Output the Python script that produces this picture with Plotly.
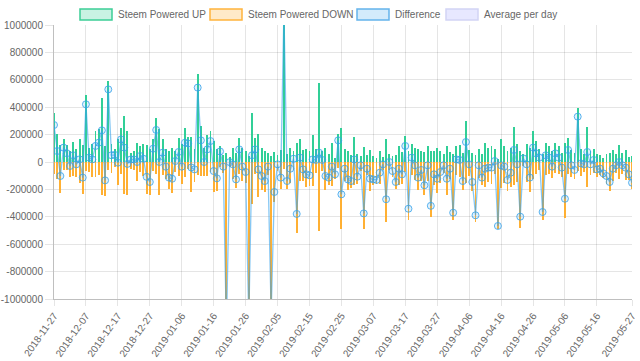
import pandas as pd
import plotly.graph_objects as go

start_date = "2018-11-27"
n_days = 182
dates = pd.date_range(start_date, periods=n_days, freq="D")

x_tick_labels = [
    "2018-11-27", "2018-12-07", "2018-12-17", "2018-12-27", "2019-01-06",
    "2019-01-16", "2019-01-26", "2019-02-05", "2019-02-15", "2019-02-25",
    "2019-03-07", "2019-03-17", "2019-03-27", "2019-04-06", "2019-04-16",
    "2019-04-26", "2019-05-06", "2019-05-16", "2019-05-27",
]

powered_up = [
    360, 207, 122, 165, 124, 80, 148, 92, 170, 122,
    489, 105, 129, 226, 238, 470, 117, 591, 129, 92,
    165, 250, 336, 226, 68, 80, 141, 117, 129, 122,
    92, 165, 324, 238, 165, 92, 80, 105, 80, 178,
    129, 250, 185, 180, 92, 640, 263, 105, 195, 226,
    153, 92, 117, 49, 63, 39, 105, 63, 178, 105,
    80, 44, 355, 178, 202, 105, 80, 63, 44, 73,
    49, 85, 1150, 56, 105, 80, 136, 170, 85, 92,
    80, 195, 92, 575, 80, 105, 56, 141, 32, 202,
    250, 92, 80, 49, 185, 56, 44, 112, 49, 88,
    44, 32, 80, 39, 165, 56, 44, 49, 117, 73,
    190, 80, 129, 105, 92, 80, 73, 117, 80, 80,
    105, 80, 56, 117, 73, 56, 117, 122, 63, 300,
    88, 68, 49, 92, 56, 136, 105, 117, 97, 19,
    165, 117, 80, 105, 258, 129, 80, 56, 129, 105,
    226, 153, 92, 56, 141, 117, 80, 141, 117, 68,
    141, 178, 88, 68, 397, 92, 56, 258, 80, 97,
    56, 49, 32, 56, 68, 88, 56, 122, 63, 88,
    39, 44,
]
powered_down = [
    -90, -127, -224, -60, -60, -109, -99, -109, -151, -236,
    -68, -73, -110, -109, -97, -239, -251, -61, -80, -40,
    -170, -85, -231, -240, -50, -61, -141, -73, -105, -230,
    -238, -68, -90, -238, -97, -126, -194, -227, -73, -105,
    -163, -109, -50, -220, -146, -97, -105, -105, -103, -73,
    -219, -211, -40, -83, -1300, -40, -122, -190, -86, -139,
    -153, -1200, -306, -86, -256, -207, -219, -97, -1150, -292,
    -66, -199, -50, -195, -154, -56, -515, -138, -139, -182,
    -177, -176, -77, -507, -65, -207, -170, -175, -122, -44,
    -486, -141, -207, -188, -166, -163, -68, -487, -98, -210,
    -171, -163, -158, -56, -437, -56, -110, -195, -166, -163,
    -73, -421, -97, -129, -206, -138, -243, -141, -400, -170,
    -227, -153, -80, -239, -122, -426, -98, -107, -202, -154,
    -105, -214, -438, -116, -170, -185, -146, -158, -90, -486,
    -189, -151, -211, -183, -170, -146, -479, -30, -146, -219,
    -121, -90, -60, -421, -92, -85, -114, -78, -85, -109,
    -409, -90, -112, -126, -66, -102, -73, -185, -97, -82,
    -110, -98, -115, -158, -214, -137, -80, -122, -87, -129,
    -129, -195,
]
up_vals = [v * 1000 for v in powered_up]
down_vals = [v * 1000 for v in powered_down]
difference = [u + d for u, d in zip(up_vals, down_vals)]

y_ticks = list(range(-1000000, 1000001, 200000))
y_tick_text = [str(v) for v in y_ticks]

legend_names = ["Steem Powered UP", "Steem Powered DOWN", "Difference", "Average per day"]

GREEN = "rgba(38,204,145,0.95)"
ORANGE = "rgba(255,172,40,0.95)"

DAY_MS = 86400000
bar_w = [0.6 * DAY_MS] * n_days
FONT = "Liberation Sans, Arial, sans-serif"

fig = go.Figure()
fig.add_trace(go.Bar(x=dates, y=up_vals, width=bar_w, name=legend_names[0],
                     marker=dict(color=GREEN, line=dict(width=0))))
fig.add_trace(go.Bar(x=dates, y=down_vals, width=bar_w, name=legend_names[1],
                     marker=dict(color=ORANGE, line=dict(width=0))))
fig.add_trace(go.Scatter(x=dates, y=difference, name=legend_names[2], mode="lines+markers",
                         line=dict(color="rgba(54,162,235,0.6)", width=1.3),
                         marker=dict(symbol="circle", size=7, color="rgba(54,162,235,0.15)",
                                     line=dict(color="rgba(54,162,235,0.8)", width=1))))

# plot area in pixels
L, R, T, B = 54, 632, 25, 299
W, H = 640, 361

def px_x(x):
    return (x - L) / (R - L)

def px_y(y):
    return (B - y) / (B - T)

legend_items = [
    (80, 117, legend_names[0], "rgba(38,204,145,0.25)", "rgb(60,206,150)"),
    (210, 247, legend_names[1], "rgba(255,172,40,0.25)", "rgb(255,180,60)"),
    (357, 394, legend_names[2], "rgba(54,162,235,0.22)", "rgb(100,180,235)"),
    (446, 483, legend_names[3], "rgba(201,203,255,0.45)", "rgb(210,212,245)"),
]
shapes = []
annotations = []
for bx, tx, name, fill, border in legend_items:
    shapes.append(dict(type="rect", xref="paper", yref="paper",
                       x0=px_x(bx), x1=px_x(bx + 32), y0=px_y(20), y1=px_y(9),
                       fillcolor=fill, line=dict(color=border, width=1.5), layer="above"))
    annotations.append(dict(xref="paper", yref="paper", x=px_x(tx - 1), y=px_y(14.5),
                            text=name, showarrow=False, xanchor="left", yanchor="middle",
                            font=dict(family=FONT, size=10, color="#666")))

fig.update_layout(
    width=W, height=H,
    margin=dict(l=L, r=W - R, t=T, b=H - B, autoexpand=False),
    paper_bgcolor="white", plot_bgcolor="white",
    barmode="overlay", bargap=0,
    showlegend=False,
    shapes=shapes, annotations=annotations,
    font=dict(family=FONT, size=10, color="#666"),
)
fig.update_xaxes(
    type="date", range=[dates[0], dates[-1]], automargin=False,
    tickvals=x_tick_labels, ticktext=x_tick_labels, tickangle=-55,
    showgrid=True, gridcolor="rgba(0,0,0,0.1)", gridwidth=1,
    ticks="outside", ticklen=6, tickcolor="rgba(0,0,0,0.1)",
    showline=True, linecolor="rgba(0,0,0,0.25)", linewidth=1,
    tickfont=dict(family=FONT, size=10, color="#666"), zeroline=False,
)
fig.update_yaxes(
    range=[-1000000, 1000000], tickvals=y_ticks, ticktext=y_tick_text, automargin=False,
    showgrid=True, gridcolor="rgba(0,0,0,0.1)", gridwidth=1,
    ticks="outside", ticklen=8, tickcolor="rgba(0,0,0,0.1)",
    showline=True, linecolor="rgba(0,0,0,0.25)", linewidth=1,
    zeroline=True, zerolinecolor="rgba(0,0,0,0.1)", zerolinewidth=1,
    tickfont=dict(family=FONT, size=10, color="#666"),
)

fig.write_html("out.html", config={"displayModeBar": False},
               post_script="document.body.style.margin='0px';document.body.style.overflow='hidden';")
